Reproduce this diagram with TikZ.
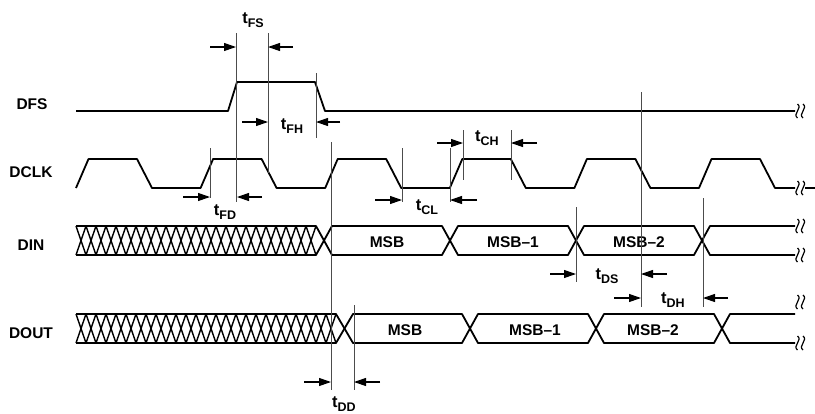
\documentclass[tikz,border=0pt]{standalone}
\usepackage{fontspec}
\setmainfont{Liberation Sans}
\usepackage{tikz}
\usetikzlibrary{arrows.meta}
\newcommand{\tsub}[1]{t\raisebox{-4.5pt}{\fontsize{12.5}{14}\selectfont#1}}
\tikzset{brk/.pic={\draw[line width=1.2pt] (-2.5,-7) .. controls (3,-3) and (-8,3) .. (-2.5,7) (3,-7) .. controls (8.5,-3) and (-2.5,3) .. (3,7);}}
\begin{document}
\begin{tikzpicture}[x=1pt, y=-1pt,
    sig/.style={line width=1.8pt, line join=round},
    hatch/.style={line width=1.4pt},
    guide/.style={line width=0.8pt, black!70},
    dim/.style={-{Triangle[length=12pt,width=8pt]}, line width=1.1pt},
    lbl/.style={font=\fontsize{15.5}{18}\selectfont\bfseries},
    tlbl/.style={font=\fontsize{16.5}{18}\selectfont\bfseries, anchor=base, inner sep=0pt}]
    \useasboundingbox (0,0) rectangle (815,413);
    \node[lbl] (dfs) at (32,104) {DFS};
    \node[lbl] (dclk) at (31,172) {DCLK};
    \node[lbl] (din) at (31,245) {DIN};
    \node[lbl] (dout) at (31,333) {DOUT};
    \draw[sig] (76,111) -- (228,111) -- (237,82) -- (315,82) -- (325,111) -- (795,111);
    \draw[sig] (76,188) \foreach \k in {0,...,4} { -- ++(12.5,-29) -- ++(48.5,0) -- ++(15,29) -- ++(48.6,0) }
        -- ++(12.5,-29) -- ++(48.5,0) -- ++(15,29) -- (795,188);
    \draw[sig] (805,188) -- (815,188);
    \foreach \x in {76,86,...,306} \draw[hatch] (\x,226) -- ++(10,29) (\x,255) -- ++(10,-29);
    \draw[sig] (76,226) -- (316,226) -- (332,255) -- (442,255) -- (458,226) -- (568,226) -- (584,255) -- (694,255) -- (710,226) -- (795,226);
    \draw[sig] (76,255) -- (316,255) -- (332,226) -- (442,226) -- (458,255) -- (568,255) -- (584,226) -- (694,226) -- (710,255) -- (795,255);
    \foreach \x in {76,86,...,326} \draw[hatch] (\x,314) -- ++(10,29) (\x,343) -- ++(10,-29);
    \draw[sig] (76,314) -- (336,314) -- (353,343) -- (462,343) -- (478,314) -- (588,314) -- (604,343) -- (714,343) -- (730,314) -- (795,314);
    \draw[sig] (76,343) -- (336,343) -- (353,314) -- (462,314) -- (478,343) -- (588,343) -- (604,314) -- (714,314) -- (730,343) -- (795,343);
    \foreach \y in {111,188,226,255,302,343} \pic at (800,\y) {brk};
    \foreach \x/\v in {387/MSB, 513/MSB–1, 639/MSB–2} \node[lbl] at (\x,242) {\v};
    \foreach \x/\v in {405/MSB, 535/MSB–1, 653/MSB–2} \node[lbl] at (\x,330) {\v};
    \foreach \x/\a/\b in {236/33/202, 268/33/173, 316/73/138, 210/148/198, 402/148/202, 450/148/202, 463/130/180, 511/130/180, 331/142/390, 354/305/390, 576/207/282, 641/92/307, 703/198/307}
        \draw[guide] (\x,\a) -- (\x,\b);
    \foreach \a/\b/\y in {210/236/47, 293/268/47, 242/268/122, 340/316/122, 183/210/197, 262/237/197, 375/402/200, 477/450/200, 437/463/143, 537/511/143, 550/576/274, 667/641/274, 614/641/298, 728/703/298, 304/331/382, 380/354/382}
        \draw[dim] (\a,\y) -- (\b,\y);
    \node[tlbl] (fs) at (253,23) {\tsub{FS}};
    \node[tlbl] (fh) at (292,129) {\tsub{FH}};
    \node[tlbl] (fd) at (225,215) {\tsub{FD}};
    \node[tlbl] (cl) at (427,210) {\tsub{CL}};
    \node[tlbl] (ch) at (487,141) {\tsub{CH}};
    \node[tlbl] (ds) at (607,279) {\tsub{DS}};
    \node[tlbl] (dh) at (673,303) {\tsub{DH}};
    \node[tlbl] (dd) at (344,407) {\tsub{DD}};
\end{tikzpicture}
\end{document}
